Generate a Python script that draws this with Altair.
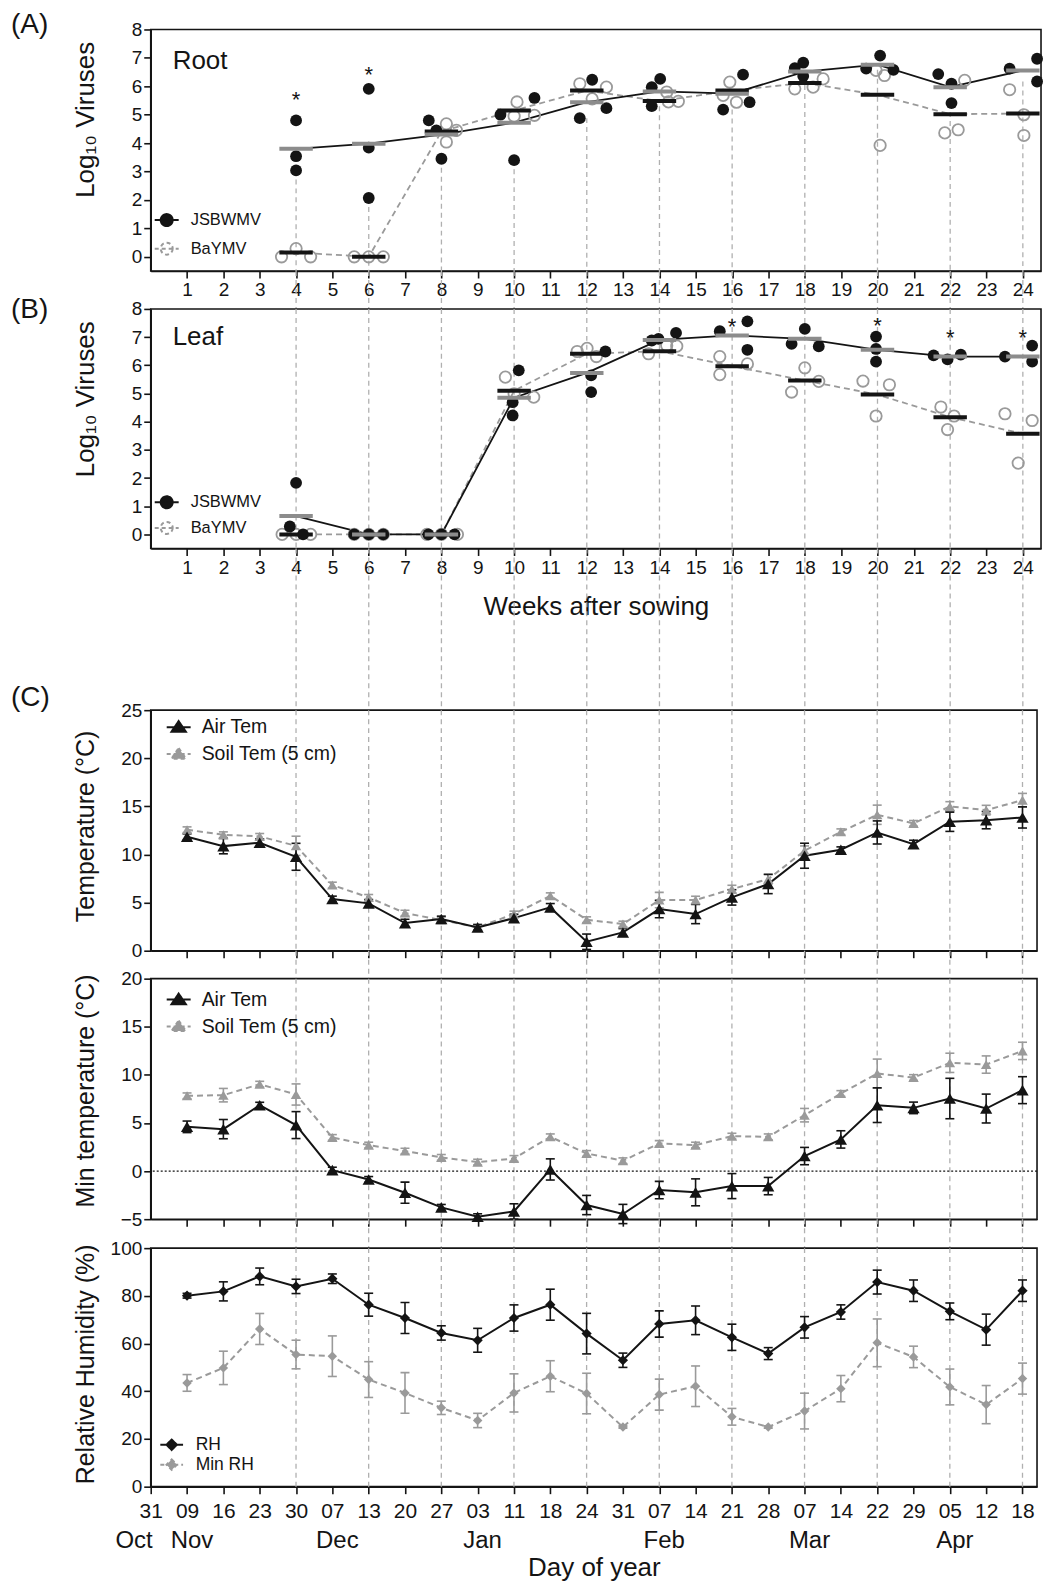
import json
import altair as alt
import pandas as pd

FONT = "Liberation Sans"
BLACK = "#141414"
GRAY = "#9a9a9a"
GRAYBAR = "#8c8c8c"
GUIDE = "#b0b0b0"

# ---------------- (A)/(B) virus accumulation ----------------
sample_weeks = [4, 6, 8, 10, 12, 14, 16, 18, 20, 22, 24]
virus_names = ["JSBWMV", "BaYMV"]

root_jsbwmv = [[4.80, 3.54, 3.04], [5.91, 3.84, 2.07], [4.80, 4.45, 3.45], [5.00, 5.59, 3.40],
               [6.23, 4.88, 5.23], [5.97, 6.26, 5.30], [6.41, 5.44, 5.18], [6.64, 6.83, 6.36],
               [7.08, 6.62, 6.58], [6.43, 6.09, 5.41], [6.62, 6.97, 6.17]]
root_jsbwmv_side = [[0, 0, 0], [0, 0, 0], [-0.87, -0.35, 0], [-0.94, 1.4, 0], [0.37, -0.48, 1.35],
                    [-0.53, 0.05, -0.53], [0.75, 1.2, -0.62], [-0.69, -0.11, -0.11], [0.18, -0.78, 1.1],
                    [-0.82, 0.09, 0.09], [-0.91, 0.98, 0.98]]
root_baymv = [[0, 0.29, 0], [0, 0, 0], [4.68, 4.45, 4.04], [5.45, 4.95, 4.98], [6.09, 5.97, 5.56],
              [5.80, 5.45, 5.47], [6.15, 5.68, 5.44], [5.91, 5.97, 6.26], [6.56, 6.38, 3.92],
              [6.21, 4.36, 4.47], [5.88, 5.00, 4.27]]
root_baymv_side = [[-1, 0, 1], [-1, 0, 1], [0.34, 1.03, 0.34], [0.2, 0, 1.4], [-0.48, 1.35, 0.37],
                   [0.5, 0.62, 1.3], [-0.16, -0.62, 0.3], [-0.69, 0.57, 1.26], [-0.1, 0.48, 0.18],
                   [1.0, -0.37, 0.55], [-0.91, 0.07, 0.07]]
root_mean_jsbwmv = [3.80, 3.98, 4.30, 4.72, 5.44, 5.82, 5.74, 6.52, 6.76, 5.97, 6.56]
root_mean_baymv = [0.15, 0.00, 4.41, 5.15, 5.85, 5.48, 5.85, 6.12, 5.70, 5.02, 5.04]
root_sig_weeks = [4, 6]
root_sig_y = [5.74, 6.60]

leaf_jsbwmv = [[1.83, 0.28, 0], [0, 0, 0], [0, 0, 0], [5.82, 4.69, 4.22], [6.49, 5.64, 5.05],
               [6.88, 6.94, 7.15], [7.21, 7.56, 6.55], [7.29, 6.76, 6.67], [7.02, 6.58, 6.13],
               [6.35, 6.21, 6.38], [6.31, 6.70, 6.13]]
leaf_jsbwmv_side = [[0, -0.43, 0.48], [-1, 0, 1], [-0.9, 0, 0.9], [0.32, -0.1, -0.1], [1.28, 0.3, 0.3],
                    [-0.53, -0.07, 1.14], [-0.85, 1.05, 1.05], [0, -0.91, 0.96], [-0.1, -0.1, -0.1],
                    [-1.14, -0.18, 0.73], [-1.23, 0.64, 0.64]]
leaf_baymv = [[0, 0, 0], [0, 0, 0], [0, 0, 0], [5.58, 4.99, 4.87], [6.49, 6.60, 6.31],
              [6.41, 6.70, 6.68], [6.31, 5.67, 6.05], [5.91, 5.05, 5.43], [5.44, 5.31, 4.20],
              [4.52, 4.20, 3.72], [4.28, 4.04, 2.53]]
leaf_baymv_side = [[-0.96, 0, 1.0], [-1, 0, 1], [-1, 0, 1.1], [-0.6, 0, 1.35], [-0.66, 0.02, 0.66],
                   [-0.75, 0.5, 1.19], [-0.85, -0.85, 1.05], [0, -0.91, 0.96], [-1.0, 0.82, -0.1],
                   [-0.64, 0.27, -0.18], [-1.23, 0.64, -0.32]]
leaf_mean_jsbwmv = [0.65, 0.00, 0.00, 4.85, 5.73, 6.90, 7.06, 6.94, 6.55, 6.31, 6.31]
leaf_mean_baymv = [0.00, 0.00, 0.00, 5.10, 6.41, 6.50, 5.97, 5.46, 4.96, 4.16, 3.57]
leaf_sig_weeks = [16, 20, 22, 24]
leaf_sig_y = [7.56, 7.59, 7.17, 7.17]

# ---------------- (C) weather ----------------
date_idx = list(range(1, 25))
day_labels = ["31", "09", "16", "23", "30", "07", "13", "20", "27", "03", "11", "18", "24",
              "31", "07", "14", "21", "28", "07", "14", "22", "29", "05", "12", "18"]
month_names = ["Oct", "Nov", "Dec", "Jan", "Feb", "Mar", "Apr"]
month_idx = [0, 1, 5, 9, 14, 18, 22]

temp_names = ["Air Tem", "Soil Tem (5 cm)"]
air_mean = [11.84, 10.87, 11.22, 9.76, 5.37, 4.92, 2.87, 3.29, 2.42, 3.39, 4.50, 0.93,
            1.90, 4.33, 3.81, 5.54, 6.93, 9.87, 10.49, 12.29, 11.08, 13.40, 13.57, 13.85]
air_err = [0.3, 0.8, 0.4, 1.4, 0.3, 0.4, 0.4, 0.3, 0.3, 0.4, 0.4, 0.8,
           0.4, 0.9, 1.0, 0.8, 1.0, 1.3, 0.3, 1.2, 0.4, 1.0, 0.9, 1.1]
soil_mean = [12.57, 12.05, 11.88, 10.90, 6.82, 5.54, 3.91, 3.19, 2.42, 3.81, 5.71, 3.22,
             2.77, 5.26, 5.26, 6.40, 7.44, 10.39, 12.36, 14.13, 13.23, 14.99, 14.61, 15.65]
soil_err = [0.3, 0.3, 0.3, 1.0, 0.3, 0.3, 0.3, 0.3, 0.3, 0.3, 0.3, 0.3,
            0.3, 0.8, 0.4, 0.4, 0.5, 0.5, 0.3, 1.0, 0.3, 0.5, 0.5, 0.7]

minair_mean = [4.60, 4.36, 6.85, 4.78, 0.10, -0.87, -2.25, -3.77, -4.74, -4.20, 0.17, -3.53,
               -4.46, -1.97, -2.21, -1.56, -1.56, 1.56, 3.29, 6.85, 6.57, 7.54, 6.50, 8.41]
minair_err = [0.6, 1.0, 0.3, 1.4, 0.3, 0.3, 1.1, 0.3, 0.3, 0.8, 1.1, 1.0,
              1.0, 0.9, 1.4, 1.3, 0.9, 0.9, 0.9, 1.8, 0.6, 2.1, 1.5, 1.4]
minsoil_mean = [7.82, 7.89, 9.03, 7.96, 3.49, 2.70, 2.08, 1.42, 0.93, 1.31, 3.56, 1.83,
                1.07, 2.87, 2.70, 3.63, 3.56, 5.81, 8.06, 10.14, 9.72, 11.25, 11.07, 12.49]
minsoil_err = [0.3, 0.7, 0.3, 1.1, 0.3, 0.3, 0.3, 0.3, 0.3, 0.3, 0.3, 0.3,
               0.3, 0.3, 0.3, 0.3, 0.3, 0.7, 0.3, 1.5, 0.3, 1.0, 0.9, 0.9]

rh_names = ["RH", "Min RH"]
rh_mean = [80.06, 81.87, 88.15, 83.96, 87.17, 76.29, 70.71, 64.44, 61.37, 70.71, 76.29, 64.16,
           53.00, 68.20, 69.74, 62.62, 55.79, 66.80, 73.22, 85.77, 82.15, 73.50, 65.83, 82.15]
rh_err = [1.0, 4.0, 3.5, 3.0, 2.0, 4.8, 6.5, 3.0, 5.0, 5.5, 6.5, 8.5,
          3.0, 5.5, 6.0, 5.5, 2.5, 4.5, 3.0, 5.0, 4.5, 3.5, 6.5, 4.5]
minrh_mean = [43.5, 49.8, 66.1, 55.4, 54.7, 44.9, 39.3, 33.05, 27.75, 39.3, 46.3, 39.05,
              25.0, 38.6, 42.1, 29.3, 25.0, 31.7, 41.1, 60.3, 54.4, 41.8, 34.4, 45.3]
minrh_err = [3.5, 7.0, 6.5, 6.0, 8.5, 7.5, 8.5, 2.8, 3.0, 8.0, 6.5, 8.5,
             0.5, 6.5, 8.5, 3.5, 0.5, 7.5, 5.5, 10.0, 4.5, 7.5, 8.0, 6.5]

# ---------------- layout constants ----------------
W_AB, W_C = 892, 888
H_A, H_B, H_C1, H_C2, H_C3 = 242, 240, 241, 241, 239
GAP1, GAP2, GAP3, GAP4 = 38, 162, 28, 29

X_AB = alt.Scale(domain=[0, 24.5], nice=False, zero=False)
X_C = alt.Scale(domain=[0, 24.4], nice=False, zero=False)
Y_AB = alt.Scale(domain=[-0.5, 8], nice=False, zero=False)

AX = dict(grid=False, domainColor=BLACK, tickColor=BLACK, labelColor=BLACK, titleColor=BLACK,
          domainWidth=1.6, tickWidth=1.6, labelFont=FONT, titleFont=FONT, titleFontWeight="normal")

GUIDE_STYLE = dict(color=GUIDE, strokeDash=[5, 4], strokeWidth=1.3)

PATH_CIRCLE = "M-1,0H1M0.5,0A0.5,0.5,0,1,1,-0.5,0A0.5,0.5,0,1,1,0.5,0Z"
PATH_TRI = "M-1,0H1M0,-0.5L0.6,0.38L-0.6,0.38Z"
PATH_DIAMOND = "M-1.2,0H1.2M0,-0.55L0.55,0L0,0.55L-0.55,0Z"


def y_axis(values, title, title_y, size=25):
    return alt.Axis(values=values, title=title, titleX=-52, titleY=title_y, titleBaseline="bottom",
                    titleFontSize=size, labelFontSize=19, labelPadding=2, tickSize=7, **AX)


ax_x_A = alt.Axis(values=list(range(1, 25)), title=None, labelFontSize=19, labelPadding=3, tickSize=7,
                  labelFlush=False, labelOverlap=False, **AX)
ax_x_B = alt.Axis(values=list(range(1, 25)), title="Weeks after sowing", titleFontSize=26, titleY=66,
                  titleBaseline="alphabetic", labelFontSize=19, labelPadding=3, tickSize=7,
                  labelFlush=False, labelOverlap=False, **AX)
ax_x_C = alt.Axis(values=list(range(1, 25)), title=None, labels=False, tickSize=7, **AX)

label_expr = json.dumps(day_labels) + "[datum.value]"
ax_x_C3 = alt.Axis(values=list(range(0, 25)), title="Day of year", titleFontSize=26, titleY=89,
                   titleBaseline="alphabetic", labelExpr=label_expr, labelFontSize=21,
                   labelPadding=7, tickSize=7, labelFlush=False, labelOverlap=False, **AX)

ax_y_AB = y_axis(list(range(0, 9)), "Log₁₀ Viruses", 90, 26)
ax_y_C1 = y_axis([0, 5, 10, 15, 20, 25], "Temperature (°C)", 116)
ax_y_C2 = y_axis([-5, 0, 5, 10, 15, 20], "Min temperature (°C)", 112)
ax_y_C3 = y_axis([0, 20, 40, 60, 80, 100], "Relative Humidity (%)", 116)

guide_df = pd.DataFrame({"week": sample_weeks})


def make_legend(lx, ly, path, size, loff, rowpad, fsize):
    return alt.Legend(title=None, orient="none", legendX=lx, legendY=ly, symbolType=path,
                      symbolSize=size, symbolStrokeWidth=2, symbolOpacity=1,
                      symbolFillColor=BLACK, symbolStrokeColor=BLACK,
                      labelFont=FONT, labelFontSize=fsize, labelColor=BLACK, labelOffset=loff,
                      rowPadding=rowpad, padding=0, symbolOffset=0, direction="vertical")


def legend_layer(df, x, y, names, fills, strokes, dashes, leg):
    return alt.Chart(df).transform_filter("false").mark_point(filled=True).encode(
        x=x, y=y,
        fill=alt.Fill("series:N", scale=alt.Scale(domain=names, range=fills), legend=leg),
        stroke=alt.Stroke("series:N", scale=alt.Scale(domain=names, range=strokes), legend=leg),
        strokeDash=alt.StrokeDash("series:N", scale=alt.Scale(domain=names, range=dashes), legend=leg),
    )


def label_text(text, x, y, size):
    return alt.Chart(pd.DataFrame({"t": [text]})).mark_text(
        align="left", baseline="alphabetic", fontSize=size, font=FONT, color=BLACK
    ).encode(text="t:N", x=alt.value(x), y=alt.value(y))


def points_frame(vals, sides, name):
    rows = []
    for wk, vs, ss in zip(sample_weeks, vals, sides):
        for v, s in zip(vs, ss):
            rows.append({"week": wk, "value": v, "side": s, "series": name})
    return pd.DataFrame(rows)


def virus_panel(jv, js, bv, bs, jm, bm, sig_w, sig_y, height, ax_x, tag, tag_y, tissue, tissue_y,
                leg_y, leg_row, guides_from_points):
    pts = pd.concat([points_frame(jv, js, virus_names[0]), points_frame(bv, bs, virus_names[1])],
                    ignore_index=True)
    means = pd.DataFrame({"week": sample_weeks * 2, "mean": jm + bm,
                          "series": [virus_names[0]] * len(jm) + [virus_names[1]] * len(bm)})
    x_w = alt.X("week:Q", scale=X_AB, axis=ax_x)

    def ys(f):
        return alt.Y(f, scale=Y_AB, axis=ax_y_AB)

    if guides_from_points:
        guides = alt.Chart(pts).transform_filter(alt.datum.series == virus_names[0]).transform_aggregate(
            lowest="min(value)", groupby=["week"]
        ).mark_rule(**GUIDE_STYLE).encode(x=x_w, y=ys("lowest:Q"), y2=alt.value(height))
    else:
        guides = alt.Chart(guide_df).mark_rule(**GUIDE_STYLE).encode(
            x=x_w, y=alt.value(0), y2=alt.value(height))

    mj = alt.Chart(means).transform_filter(alt.datum.series == virus_names[0])
    mb = alt.Chart(means).transform_filter(alt.datum.series == virus_names[1])
    line_b = mb.mark_line(color=GRAY, strokeWidth=1.8, strokeDash=[6, 4]).encode(x=x_w, y=ys("mean:Q"))
    line_j = mj.mark_line(color=BLACK, strokeWidth=1.8).encode(x=x_w, y=ys("mean:Q"))

    x_p = alt.X("xpos:Q", scale=X_AB, axis=ax_x)
    pj = alt.Chart(pts).transform_filter(alt.datum.series == virus_names[0]).transform_calculate(
        xpos="datum.week + 0.4 * datum.side")
    pb = alt.Chart(pts).transform_filter(alt.datum.series == virus_names[1]).transform_calculate(
        xpos="datum.week + 0.4 * datum.side")
    pts_b = pb.mark_point(filled=False, size=130, color=GRAY, strokeWidth=1.8, opacity=1).encode(
        x=x_p, y=ys("value:Q"))
    pts_j = pj.mark_point(filled=True, size=140, color=BLACK, opacity=1).encode(x=x_p, y=ys("value:Q"))

    x_b0 = alt.X("x0:Q", scale=X_AB, axis=ax_x)
    bar_b = mb.transform_calculate(x0="datum.week - 0.46", x1="datum.week + 0.46").mark_rule(
        color=BLACK, strokeWidth=4).encode(x=x_b0, x2="x1:Q", y=ys("mean:Q"))
    bar_j = mj.transform_calculate(x0="datum.week - 0.46", x1="datum.week + 0.46").mark_rule(
        color=GRAYBAR, strokeWidth=4).encode(x=x_b0, x2="x1:Q", y=ys("mean:Q"))

    stars = alt.Chart(pd.DataFrame({"week": sig_w, "y": sig_y})).mark_text(
        text="*", fontSize=22, font=FONT, color=BLACK, baseline="middle", dy=6
    ).encode(x=x_w, y=ys("y:Q"))

    leg = make_legend(3, leg_y, PATH_CIRCLE, 576, 11, leg_row, 16.5)
    legend = legend_layer(means, x_w, ys("mean:Q"), virus_names, [BLACK, "transparent"],
                          [BLACK, GRAY], [[1, 0], [4, 3]], leg)

    return alt.layer(
        guides, line_b, line_j, pts_b, pts_j, bar_b, bar_j, stars, legend,
        label_text(tag, -140, tag_y, 28), label_text(tissue, 22, tissue_y, 26),
    ).properties(width=W_AB, height=height)


def climate_frame(mean, err, name):
    return pd.DataFrame({"idx": date_idx, "mean": mean, "err": err, "series": name})


def climate_panel(series, names, ax_x, ax_y, yscale, height, leg, extra_back=(), extra_front=()):
    x = alt.X("idx:Q", scale=X_C, axis=ax_x)
    guides = alt.Chart(guide_df).mark_rule(**GUIDE_STYLE).encode(
        x=alt.X("week:Q", scale=X_C, axis=ax_x), y=alt.value(0), y2=alt.value(height))
    layers = [guides] + list(extra_back)
    bars, lines, pts = [], [], []
    frames = []
    for df, color, shape, size, dash in series:
        frames.append(df)
        base = alt.Chart(df).transform_calculate(lo="datum.mean - datum.err", hi="datum.mean + datum.err")
        bars.append(base.mark_rule(color=color, strokeWidth=1.6).encode(
            x=x, y=alt.Y("lo:Q", scale=yscale, axis=ax_y), y2="hi:Q"))
        for f in ("lo:Q", "hi:Q"):
            bars.append(base.mark_tick(orient="horizontal", size=9, thickness=1.6, color=color,
                                       opacity=1).encode(x=x, y=alt.Y(f, scale=yscale, axis=ax_y)))
        lk = dict(color=color, strokeWidth=2)
        if dash:
            lk["strokeDash"] = dash
        lines.append(base.mark_line(**lk).encode(x=x, y=alt.Y("mean:Q", scale=yscale, axis=ax_y)))
        pts.append(base.mark_point(filled=True, shape=shape, size=size, color=color, opacity=1).encode(
            x=x, y=alt.Y("mean:Q", scale=yscale, axis=ax_y)))
    all_df = pd.concat(frames, ignore_index=True)
    legend = legend_layer(all_df, x, alt.Y("mean:Q", scale=yscale, axis=ax_y), names,
                          [BLACK, GRAY], [BLACK, GRAY], [[1, 0], [4, 3]], leg)
    layers += bars + lines + pts + [legend] + list(extra_front)
    return alt.layer(*layers).properties(width=W_C, height=height)


def spacer(height, width, xscale):
    return alt.Chart(guide_df).mark_rule(**GUIDE_STYLE).encode(
        x=alt.X("week:Q", scale=xscale, axis=None), y=alt.value(0), y2=alt.value(height)
    ).properties(width=width, height=height, view=alt.ViewBackground(stroke="transparent"))


panel_a = virus_panel(root_jsbwmv, root_jsbwmv_side, root_baymv, root_baymv_side,
                      root_mean_jsbwmv, root_mean_baymv, root_sig_weeks, root_sig_y,
                      H_A, ax_x_A, "(A)", 4, "Root", 40, 178, 5.6, True)
panel_b = virus_panel(leaf_jsbwmv, leaf_jsbwmv_side, leaf_baymv, leaf_baymv_side,
                      leaf_mean_jsbwmv, leaf_mean_baymv, leaf_sig_weeks, leaf_sig_y,
                      H_B, ax_x_B, "(B)", 9, "Leaf", 36, 180.7, 2.7, False)

Y_C1 = alt.Scale(domain=[0, 25], nice=False, zero=False)
Y_C2 = alt.Scale(domain=[-5, 20], nice=False, zero=False)
Y_C3 = alt.Scale(domain=[0, 100], nice=False, zero=False)

c1 = climate_panel(
    [(climate_frame(soil_mean, soil_err, temp_names[1]), GRAY, "triangle-up", 110, [6, 4]),
     (climate_frame(air_mean, air_err, temp_names[0]), BLACK, "triangle-up", 150, None)],
    temp_names, ax_x_C, ax_y_C1, Y_C1, H_C1,
    make_legend(15, 4, PATH_TRI, 576, 10, 4, 19.5),
    extra_front=[label_text("(C)", -140, -4, 28)])

zero_rule = alt.Chart(pd.DataFrame({"level": [0]})).mark_rule(
    color=BLACK, strokeDash=[2, 2], strokeWidth=1.3).encode(y=alt.Y("level:Q", scale=Y_C2, axis=ax_y_C2))
c2 = climate_panel(
    [(climate_frame(minsoil_mean, minsoil_err, temp_names[1]), GRAY, "triangle-up", 110, [6, 4]),
     (climate_frame(minair_mean, minair_err, temp_names[0]), BLACK, "triangle-up", 150, None)],
    temp_names, ax_x_C, ax_y_C2, Y_C2, H_C2,
    make_legend(15, 8, PATH_TRI, 576, 10, 4, 19.5),
    extra_back=[zero_rule])

# month names under the day labels of panel C3
months_df = pd.DataFrame({"idx": month_idx, "month": month_names})
month_first = alt.Chart(months_df).transform_filter(alt.datum.idx == month_idx[0]).mark_text(
    align="right", baseline="alphabetic", fontSize=24, font=FONT, color=BLACK, dx=2
).encode(x=alt.X("idx:Q", scale=X_C, axis=ax_x_C3), text="month:N", y=alt.value(H_C3 + 61))
month_rest = alt.Chart(months_df).transform_filter(alt.datum.idx > month_idx[0]).mark_text(
    align="center", baseline="alphabetic", fontSize=24, font=FONT, color=BLACK, dx=5
).encode(x=alt.X("idx:Q", scale=X_C, axis=ax_x_C3), text="month:N", y=alt.value(H_C3 + 61))

c3 = climate_panel(
    [(climate_frame(minrh_mean, minrh_err, rh_names[1]), GRAY, "diamond", 90, [6, 4]),
     (climate_frame(rh_mean, rh_err, rh_names[0]), BLACK, "diamond", 105, None)],
    rh_names, ax_x_C3, ax_y_C3, Y_C3, H_C3,
    make_legend(10.5, 186.5, PATH_DIAMOND, 361, 13.5, 0, 17.5),
    extra_front=[month_first, month_rest])

chart = alt.vconcat(
    panel_a, spacer(GAP1, W_AB, X_AB), panel_b, spacer(GAP2, W_AB, X_AB),
    c1, spacer(GAP3, W_C, X_C), c2, spacer(GAP4, W_C, X_C), c3,
    spacing=0, bounds="flush",
).resolve_scale(
    fill="independent", stroke="independent", strokeDash="independent"
).resolve_legend(
    fill="independent", stroke="independent", strokeDash="independent"
).properties(
    padding={"left": 2, "top": 1, "right": 5, "bottom": 0}
).configure(
    font=FONT, background="white"
).configure_view(
    stroke=BLACK, strokeWidth=1.6
)

chart.save("out.html", embed_options={"renderer": "svg", "actions": False})
